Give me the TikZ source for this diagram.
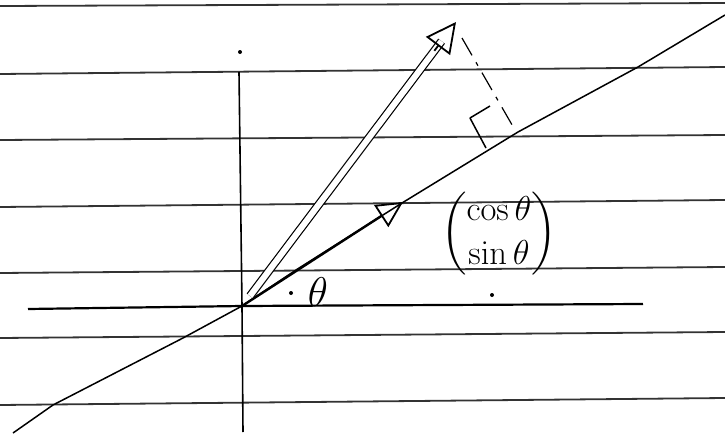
\documentclass[tikz,border=0pt]{standalone}
\usepackage{amsmath}
\usepackage{tikz}
\usetikzlibrary{arrows.meta,calc}

\begin{document}
\begin{tikzpicture}[
  x=0.5pt, y=-0.5pt,
  rule/.style={draw=black!80, line width=0.9pt},
  axis/.style={draw=black, line width=0.8pt},
  hand/.style={draw=black, line width=0.75pt, line join=round},
  unitvec/.style={line width=1.2pt, -{Triangle[open, length=13pt, width=13pt, line width=0.9pt]}},
  vecshaft/.style={double, double distance=3pt, line width=0.6pt},
  vechead/.style={line width=0.9pt, -{Triangle[open, length=15pt, width=15pt, line width=0.9pt]}},
  proj/.style={line width=0.6pt, dash pattern=on 10pt off 4pt on 2pt off 4pt},
  speck/.style={fill=black, circle, inner sep=0pt, minimum size=2pt},
]
\fill[white] (0,0) rectangle (725,434);
\useasboundingbox (0,0) rectangle (725,434);

% ruled paper
\foreach \yl/\yr in {6/3,74/67,140/135,207/200,273/267,338/332,405/398}
  \draw[rule] (0,\yl) -- (725,\yr);

% axes
\coordinate (O) at (242,306);
\coordinate (xL) at (28,309);
\coordinate (xR) at (643,304);
\coordinate (yT) at (239,72);
\coordinate (yB) at (243,432);
\draw[axis, line width=1.1pt] (xL) -- (O) -- (xR);
\draw[axis] (yT) -- (O) -- (yB);

% the line through the origin
\draw[hand] (13,433) -- (53,405) -- (183,338) -- (O) -- (296,270) -- (402,203) -- (518,132) -- (638,67) -- (725,15);

% unit vector
\coordinate (U) at (403,202);
\draw[unitvec] (O) -- (U);

% long vector
\coordinate (S) at (250,296);
\coordinate (V) at (456,22);
\draw[vecshaft, shorten >=12pt] (S) -- (V);
\draw[vechead] ($(V)!18pt!(S)$) -- (V);

% projection and right angle
\coordinate (P) at (462,38);
\coordinate (F) at (515,130);
\draw[proj] (P) -- (F);
\coordinate (rA) at (486,148);
\coordinate (rB) at (470,118);
\coordinate (rC) at (490,106);
\draw[hand] (rA) -- (rB) -- (rC);

% labels
\node[font=\LARGE] (dir) at (499,234) {$\begin{pmatrix}\cos\theta\\ \sin\theta\end{pmatrix}$};
\node[font=\huge] (ang) at (318,292) {$\theta$};

% specks on the page
\node[speck] (d1) at (240,52) {};
\node[speck] (d2) at (291,293) {};
\node[speck] (d3) at (492,295) {};
\end{tikzpicture}
\end{document}
